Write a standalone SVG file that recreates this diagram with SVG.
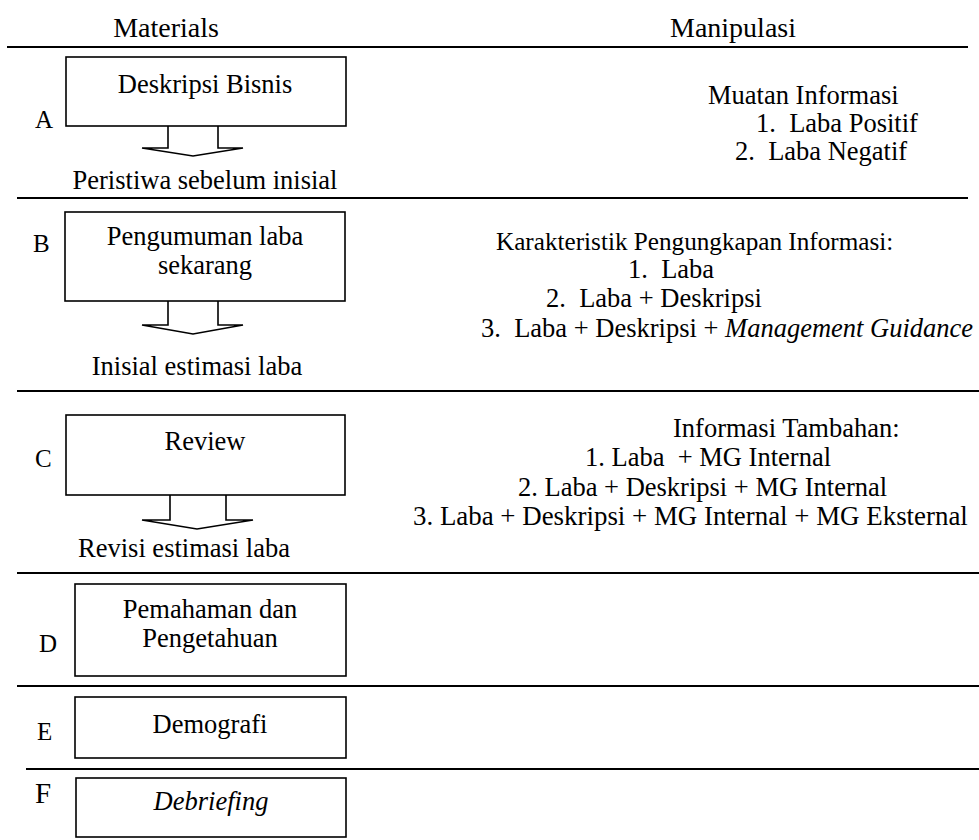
<svg xmlns="http://www.w3.org/2000/svg" width="979" height="840" viewBox="0 0 979 840">
<style>
text{font-family:"Liberation Serif","Times New Roman",serif;font-size:26.5px;fill:#000;white-space:pre}
.c{text-anchor:middle}
.hd{font-size:28px}
.lt{font-size:25px}
.rule{stroke:#000;stroke-width:2}
.box{fill:#fff;stroke:#000;stroke-width:1.6}
.arr{fill:#fff;stroke:#000;stroke-width:1.6;stroke-linejoin:miter}
</style>
<g id="headers">
<text class="c hd" x="166" y="37">Materials</text>
<text class="c hd" x="733" y="37">Manipulasi</text>
</g>
<g id="rules">
<line class="rule" x1="7" y1="47" x2="968" y2="47"/>
<line class="rule" x1="17" y1="198" x2="968" y2="198"/>
<line class="rule" x1="17" y1="391" x2="979" y2="391"/>
<line class="rule" x1="17" y1="573" x2="979" y2="573"/>
<line class="rule" x1="17" y1="686" x2="979" y2="686"/>
<line class="rule" x1="26" y1="769" x2="979" y2="769"/>
</g>
<g id="connectors">
<polyline class="arr" points="168,126 168,148 142,148 193,156 243,148 218,148 218,126"/>
<polyline class="arr" points="168,301 168,325 142,325 193,334 243,325 218,325 218,301"/>
<polyline class="arr" points="170,495 170,520 142,520 197,529 253,520 226,520 226,495"/>
</g>
<g id="nodeA">
<text class="lt" x="35" y="128">A</text>
<rect class="box" x="66" y="57" width="280" height="69"/>
<text class="c" x="205" y="93">Deskripsi Bisnis</text>
<text class="c" x="205" y="189">Peristiwa sebelum inisial</text>
</g>
<g id="nodeB">
<text class="lt" x="33" y="252">B</text>
<rect class="box" x="65" y="212" width="280" height="89"/>
<text class="c" x="205" y="245">Pengumuman laba</text>
<text class="c" x="205" y="274">sekarang</text>
<text class="c" x="197" y="375">Inisial estimasi laba</text>
</g>
<g id="nodeC">
<text class="lt" x="35" y="467">C</text>
<rect class="box" x="66" y="415" width="279" height="80"/>
<text class="c" x="205" y="450">Review</text>
<text class="c" x="184" y="557">Revisi estimasi laba</text>
</g>
<g id="nodeD">
<text class="lt" x="39" y="652">D</text>
<rect class="box" x="75" y="584" width="271" height="92"/>
<text class="c" x="210" y="618">Pemahaman dan</text>
<text class="c" x="210" y="647">Pengetahuan</text>
</g>
<g id="nodeE">
<text class="lt" x="37" y="740">E</text>
<rect class="box" x="75" y="697" width="271" height="61"/>
<text class="c" x="210" y="733">Demografi</text>
</g>
<g id="nodeF">
<text x="35" y="803" style="font-size:29px">F</text>
<rect class="box" x="76" y="778" width="270" height="59"/>
<text class="c" x="211" y="810" style="font-style:italic">Debriefing</text>
</g>
<g id="manipA">
<text x="708" y="104">Muatan Informasi</text>
<text x="756" y="132">1.  Laba Positif</text>
<text x="735" y="160">2.  Laba Negatif</text>
</g>
<g id="manipB">
<text x="496" y="250" style="font-size:25.2px">Karakteristik Pengungkapan Informasi:</text>
<text x="628" y="278">1.  Laba</text>
<text x="546" y="307">2.  Laba + Deskripsi</text>
<text x="481" y="337">3.  Laba + Deskripsi + <tspan style="font-style:italic">Management Guidance</tspan></text>
</g>
<g id="manipC">
<text x="673" y="437">Informasi Tambahan:</text>
<text x="585" y="466">1. Laba  + MG Internal</text>
<text x="518" y="496">2. Laba + Deskripsi + MG Internal</text>
<text x="413" y="525" style="font-size:26.9px">3. Laba + Deskripsi + MG Internal + MG Eksternal</text>
</g>
</svg>
